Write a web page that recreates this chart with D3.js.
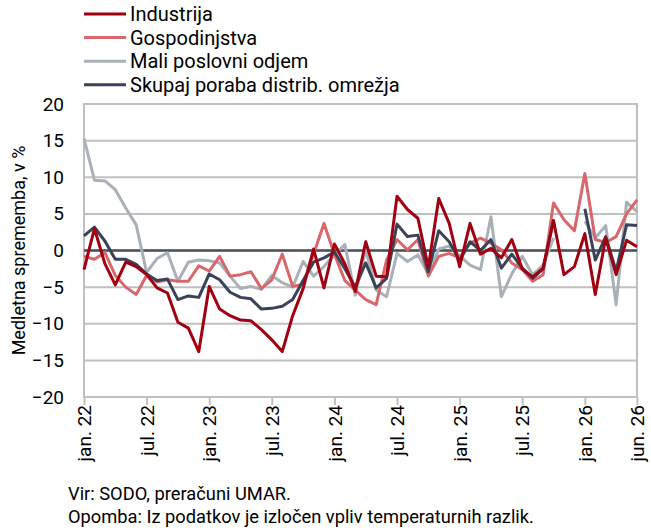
<!DOCTYPE html>
<html>
<head>
    <title>Medletna sprememba porabe</title>
    <style>
        body { margin: 0; background: #fff; }
        text { font-family: Roboto, "Noto Sans", sans-serif; fill: #000; }
    </style>
    <script src="https://d3js.org/d3.v7.min.js"></script>
</head>
<body>
    <div id="chart"></div>

    <script>
        // months jan. 22 .. jun. 26 (54 points)
        var tickIndex = [0, 6, 12, 18, 24, 30, 36, 42, 48, 53];
        var tickLabels = ['jan. 22', 'jul. 22', 'jan. 23', 'jul. 23', 'jan. 24', 'jul. 24',
                          'jan. 25', 'jul. 25', 'jan. 26', 'jun. 26'];
        var yTicks = [20, 15, 10, 5, 0, -5, -10, -15, -20];

        var industrija = [-2.6, 3.0, -1.8, -4.7, -1.6, -2.2, -3.3, -5.1, -5.8, -9.8, -10.6, -13.8,
            -4.9, -8.0, -8.9, -9.5, -9.6, -10.8, -12.2, -13.8, -8.9, -5.2, 0.2, -5.1,
            0.9, -1.8, -5.6, 1.2, -3.5, -3.6, 7.4, 5.6, 4.4, -2.3, 7.1, 3.7,
            -2.2, 3.7, -0.5, 0.3, -1.0, 1.5, -2.5, -3.6, -2.4, 4.1, -3.3, -2.2,
            2.3, -6.0, 1.7, -3.3, 1.4, 0.5];
        var gospodinjstva = [-0.8, -1.2, -0.3, -3.4, -5.0, -6.0, -3.4, -4.3, -4.0, -4.2, -4.2, -2.1,
            -2.8, -0.8, -3.5, -3.3, -2.9, -5.2, -4.0, -0.5, -4.9, -4.6, -0.5, 3.7,
            -0.5, -4.1, -5.4, -6.7, -7.4, -1.3, 1.5, 0.1, 1.5, -3.5, -0.8, -0.4,
            -1.0, 1.0, 1.7, 1.0, 0.1, -1.7, -2.6, -4.2, -3.3, 6.5, 4.2, 2.7,
            10.5, 1.5, 1.1, 1.9, 5.0, 6.9];
        var maliPoslovni = [15.3, 9.6, 9.5, 8.3, 5.8, 3.5, -3.0, -1.1, -0.3, -4.2, -1.6, -1.3,
            -1.4, -1.7, -3.5, -5.2, -4.9, -5.3, -3.4, -4.4, -5.0, -1.5, -3.5, -2.2,
            -0.6, 0.8, -6.1, 0.1, -5.4, -6.3, -0.4, -1.5, -0.6, -3.2, 0.2, 0.6,
            -0.7, -2.0, -2.6, 4.6, -6.3, -3.2, -0.8, -3.3, -2.0, 1.7, null, null,
            4.0, 1.7, 3.4, -7.4, 6.6, 5.3];
        var skupaj = [2.0, 3.2, 1.3, -1.2, -1.2, -1.9, -3.2, -4.1, -3.9, -6.7, -6.2, -6.4,
            -3.2, -4.0, -5.7, -6.4, -6.6, -8.0, -7.9, -7.6, -6.7, -4.1, -1.6, -1.0,
            -0.2, -2.5, -5.0, -1.7, -5.1, -3.8, 3.6, 1.9, 2.1, -2.9, 2.7, 1.2,
            -1.4, 1.2, 0.0, 1.5, -2.4, -0.5, -2.4, -3.8, -2.5, 4.2, null, null,
            5.7, -1.3, 1.9, -2.8, 3.5, 3.4];

        var seriesNames = ['Industrija', 'Gospodinjstva', 'Mali poslovni odjem', 'Skupaj poraba distrib. omrežja'];
        var seriesColors = ['#a0000f', '#d9666a', '#a9b0b7', '#384259'];
        var seriesData = [industrija, gospodinjstva, maliPoslovni, skupaj];

        var width = 651, height = 532;
        var margin = { top: 104, right: 14, bottom: 135, left: 84 };
        var innerW = width - margin.left - margin.right;
        var innerH = height - margin.top - margin.bottom;

        var svg = d3.select('#chart').append('svg')
            .attr('width', width)
            .attr('height', height);

        var g = svg.append('g')
            .attr('transform', 'translate(' + margin.left + ',' + margin.top + ')');

        var xScale = d3.scaleLinear()
            .domain([0, industrija.length - 1])
            .range([0, innerW]);

        var yScale = d3.scaleLinear()
            .domain([-20, 20])
            .range([innerH, 0]);

        // gridlines
        g.selectAll('.grid')
            .data(yTicks)
            .enter()
            .append('line')
            .attr('x1', 0)
            .attr('x2', innerW)
            .attr('y1', function(d) { return yScale(d); })
            .attr('y2', function(d) { return yScale(d); })
            .attr('stroke', '#c0c0c0')
            .attr('stroke-width', 2);

        // frame
        g.append('rect')
            .attr('width', innerW)
            .attr('height', innerH)
            .attr('fill', 'none')
            .attr('stroke', '#c0c0c0')
            .attr('stroke-width', 2);

        // y axis labels
        var yAxis = d3.axisLeft(yScale)
            .tickValues(yTicks)
            .tickSize(0)
            .tickPadding(20);
        g.append('g')
            .call(yAxis)
            .call(function(s) { s.select('.domain').remove(); })
            .selectAll('text')
            .attr('font-size', 19)
            .attr('font-family', 'Roboto, sans-serif')
            .attr('fill', '#000');

        // x axis ticks and labels
        var xAxis = d3.axisBottom(xScale)
            .tickValues(tickIndex)
            .tickFormat(function(d, i) { return tickLabels[i]; })
            .tickSize(8)
            .tickSizeOuter(0);
        var xg = g.append('g')
            .attr('transform', 'translate(0,' + innerH + ')')
            .call(xAxis);
        xg.select('.domain').remove();
        xg.selectAll('.tick line')
            .attr('stroke', '#c0c0c0')
            .attr('stroke-width', 2);
        xg.selectAll('.tick text')
            .attr('font-size', 19)
            .attr('font-family', 'Roboto, sans-serif')
            .attr('fill', '#000')
            .attr('text-anchor', 'end')
            .attr('transform', 'rotate(-90)')
            .attr('x', -8)
            .attr('y', 0)
            .attr('dy', '0.35em');

        // zero line
        g.append('line')
            .attr('x1', 0)
            .attr('x2', innerW)
            .attr('y1', yScale(0))
            .attr('y2', yScale(0))
            .attr('stroke', '#4b505b')
            .attr('stroke-width', 2.5);

        // series lines
        var line = d3.line()
            .defined(function(d) { return d !== null; })
            .x(function(d, i) { return xScale(i); })
            .y(function(d) { return yScale(d); });

        var drawOrder = [2, 1, 3, 0];
        drawOrder.forEach(function(k) {
            g.append('path')
                .datum(seriesData[k])
                .attr('d', line)
                .attr('fill', 'none')
                .attr('stroke', seriesColors[k])
                .attr('stroke-width', 3)
                .attr('stroke-linejoin', 'round');
        });

        // legend
        var legend = svg.append('g')
            .attr('transform', 'translate(84,14)');
        var items = legend.selectAll('.item')
            .data(seriesNames)
            .enter()
            .append('g')
            .attr('transform', function(d, i) { return 'translate(0,' + (i * 23.6) + ')'; });
        items.append('line')
            .attr('x1', 0)
            .attr('x2', 42)
            .attr('stroke', function(d, i) { return seriesColors[i]; })
            .attr('stroke-width', 3);
        items.append('text')
            .attr('x', 46)
            .attr('dy', '0.35em')
            .attr('font-size', 20)
            .text(function(d) { return d; });

        // y axis title
        svg.append('text')
            .attr('transform', 'translate(25,' + (margin.top + innerH / 2) + ') rotate(-90)')
            .attr('text-anchor', 'middle')
            .attr('font-size', 18)
            .text('Medletna sprememba, v %');

        // footer
        svg.append('text')
            .attr('x', 68)
            .attr('y', 500)
            .attr('font-size', 18.3)
            .text('Vir: SODO, preračuni UMAR.');
        svg.append('text')
            .attr('x', 68)
            .attr('y', 523)
            .attr('font-size', 18.3)
            .text('Opomba: Iz podatkov je izločen vpliv temperaturnih razlik.');
    </script>
</body>
</html>
